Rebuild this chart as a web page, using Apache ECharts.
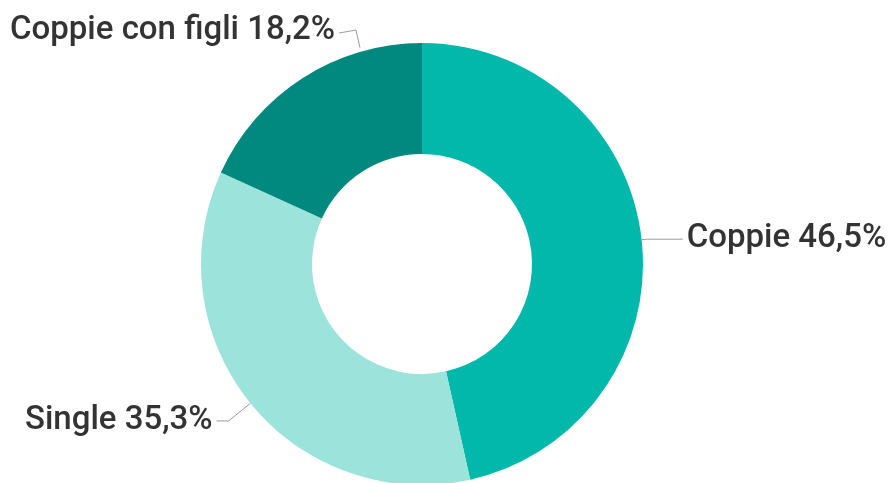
<!DOCTYPE html>
<html>
<head>
<meta charset="utf-8">
<script src="https://cdn.jsdelivr.net/npm/echarts@6/dist/echarts.min.js"></script>
<style>
html,body{margin:0;padding:0;background:#fff;}
#c{width:891px;height:483px;}
</style>
</head>
<body>
<div id="c"></div>
<script>
const categories = ['Coppie', 'Single', 'Coppie con figli'];
const values = [46.5, 35.3, 18.2];
const colors = ['#01B8AA', '#9CE3DB', '#01887F'];

const CX = 422, CY = 264, R_OUT = 221, R_IN = 110;
const FONT = '500 33px Roboto';
const lineStyles = [
  { length: 5, length2: 36 },
  { length: 28, length2: 12 },
  { length: 5, length2: 5 }
];

function fmt(name, v) { return name + ' ' + v.toFixed(1).replace('.', ',') + '%'; }
const measureCtx = document.createElement('canvas').getContext('2d');
measureCtx.font = FONT;

const data = categories.map((n, i) => ({
  name: n,
  value: values[i],
  itemStyle: { color: colors[i] },
  labelLine: lineStyles[i]
}));

const chart = echarts.init(document.getElementById('c'), null, { renderer: 'canvas' });
chart.setOption({
  animation: false,
  series: [{
    type: 'pie',
    center: [CX, CY],
    radius: [R_IN, R_OUT],
    startAngle: 90,
    clockwise: true,
    avoidLabelOverlap: false,
    emphasis: { disabled: true },
    data: data,
    label: {
      show: true,
      position: 'outside',
      formatter: p => fmt(p.name, p.value),
      fontFamily: 'Roboto',
      fontWeight: 500,
      fontSize: 33,
      color: '#333333',
      width: 380,
      overflow: 'none',
      distanceToLabelLine: 4
    },
    labelLine: {
      show: true,
      lineStyle: { color: '#9a9a9a', width: 1 }
    },
    labelLayout: function (p) {
      if (p.dataIndex !== 2) return {};
      const text = fmt(categories[2], values[2]);
      const w = measureCtx.measureText(text).width;
      const a = -16 * Math.PI / 180;
      const ex = CX + (R_OUT + 4) * Math.sin(a);
      const ey = CY - (R_OUT + 4) * Math.cos(a);
      const tx = 10, ty = 31;
      return {
        x: tx, y: ty, align: 'left', verticalAlign: 'middle',
        labelLinePoints: [[tx + w + 4, ty + 2], [ex - 4, ty - 1], [ex, ey]]
      };
    }
  }]
});
</script>
</body>
</html>
